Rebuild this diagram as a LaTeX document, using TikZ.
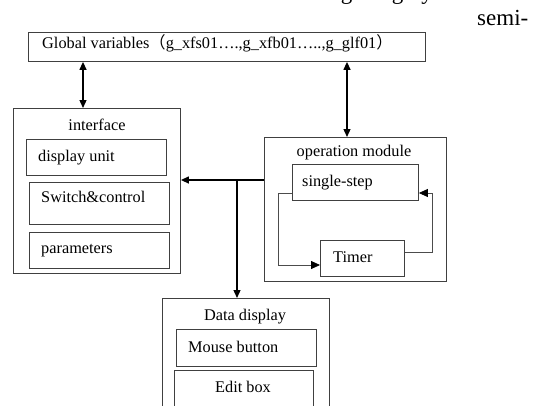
\documentclass[tikz,border=0pt]{standalone}
\usepackage{fontspec}
\setmainfont{Liberation Serif}
\newfontfamily\cjk{Noto Sans CJK SC}
\usetikzlibrary{arrows.meta}
\begin{document}
\begin{tikzpicture}[x=1pt,y=-1pt,
  box/.style={draw=black!75, line width=0.9pt, inner sep=0pt, anchor=north west},
  lbl/.style={inner sep=0pt, font=\fontsize{16.3}{19}\selectfont},
  big/.style={inner sep=0pt, font=\fontsize{23}{27}\selectfont},
  link/.style={line width=1.3pt, -{Triangle[length=8pt,width=7pt]}},
  both/.style={line width=1.3pt, {Triangle[length=8pt,width=7pt]}-{Triangle[length=8pt,width=7pt]}},
  cycle/.style={draw=black!70, line width=0.8pt, -{Triangle[length=9pt,width=8pt,color=black]}}]
\useasboundingbox (0,0) rectangle (536,405);
\clip (0,0) rectangle (536,405);
\fill[white] (0,0) rectangle (536,405);

% surrounding body text
\node[big, anchor=base east] (prev) at (433,-1) {using a highly};
\node[big, anchor=base west] (semi) at (477,25) {semi-};

% global variables
\node[box, minimum width=397pt, minimum height=29pt] (glob) at (28,32) {};
\node[lbl, anchor=base west] (globtxt) at (42,48)
  {Global variables{\cjk （}g\_xfs01….,g\_xfb01…..,g\_glf01{\cjk ）}};

% interface block
\node[box, minimum width=167pt, minimum height=165pt] (intf) at (13,108) {};
\node[lbl, anchor=base] (intftxt) at (97,130) {interface};
\node[box, minimum width=140pt, minimum height=36pt] (disp) at (26,139) {};
\node[lbl, anchor=base west] (disptxt) at (38,161) {display unit};
\node[box, minimum width=140pt, minimum height=42pt] (swc) at (29,182) {};
\node[lbl, anchor=base west] (swctxt) at (41,202) {Switch\&control};
\node[box, minimum width=140pt, minimum height=36pt] (par) at (29,232) {};
\node[lbl, anchor=base west] (partxt) at (41,253) {parameters};

% operation module
\node[box, minimum width=182pt, minimum height=144pt] (oper) at (264,137) {};
\node[lbl, anchor=base] (opertxt) at (354,156) {operation module};
\node[box, minimum width=126pt, minimum height=36pt] (sstep) at (292,164) {};
\node[lbl, anchor=base west] (ssteptxt) at (302,186) {single-step};
\node[box, minimum width=84pt, minimum height=36pt] (timer) at (320,240) {};
\node[lbl, anchor=base west] (timertxt) at (333,262) {Timer};

% data display
\node[box, minimum width=167pt, minimum height=130pt] (data) at (162,298) {};
\node[lbl, anchor=base] (datatxt) at (245,320) {Data display};
\node[box, minimum width=140pt, minimum height=37pt] (mouse) at (176,329) {};
\node[lbl, anchor=base west] (mousetxt) at (188,352) {Mouse button};
\node[box, minimum width=139pt, minimum height=60pt] (edit) at (174,370) {};
\node[lbl, anchor=base] (edittxt) at (243,392) {Edit box};

% routing lines
\coordinate (xa) at (83,0);
\coordinate (xb) at (347,0);
\coordinate (xc) at (237,0);
\coordinate (yh) at (0,180);
\coordinate (yl) at (0,193);
\coordinate (yt) at (0,265);
\coordinate (yr) at (0,252);
\coordinate (xl) at (278,0);
\coordinate (xr) at (432,0);

\draw[both] (glob.south -| xa) -- (intf.north -| xa);
\draw[both] (glob.south -| xb) -- (oper.north -| xb);
\draw[link] (oper.west |- yh) -- (intf.east |- yh);
\draw[link] (xc |- yh) -- (data.north -| xc);
\draw[cycle] (sstep.west |- yl) -| (xl |- yt) -- (timer.west |- yt);
\draw[cycle] (timer.east |- yr) -| (xr |- yl) -- (sstep.east |- yl);
\end{tikzpicture}
\end{document}
